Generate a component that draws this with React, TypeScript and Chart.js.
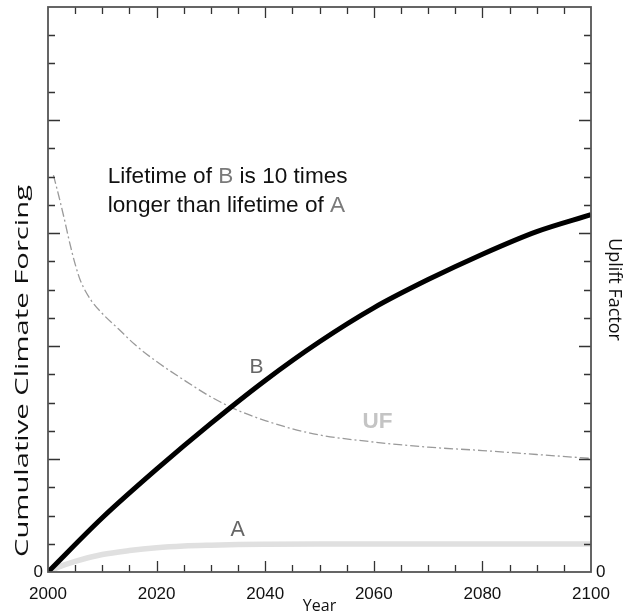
import React, { useEffect, useRef } from 'react';
import { Chart, registerables } from 'chart.js';

Chart.register(...registerables);

// Years sampled for curve B
const yearsB = [2000, 2010, 2020, 2030, 2040, 2050, 2060, 2070, 2080, 2090, 2100];
// Cumulative climate forcing of B (long lifetime)
const seriesB = [0, 1.92, 3.64, 5.26, 6.78, 8.15, 9.35, 10.35, 11.25, 12.05, 12.65];
// Cumulative climate forcing of A (short lifetime)
const yearsA = [2000, 2002, 2005, 2010, 2015, 2020, 2025, 2030, 2035, 2040, 2050, 2060, 2070, 2080, 2090, 2100];
const seriesA = [0, 0.18, 0.38, 0.62, 0.76, 0.86, 0.92, 0.95, 0.97, 0.98, 0.99, 0.99, 0.99, 0.99, 0.99, 0.99];
// Uplift factor
const ufYears = [2001, 2002, 2003, 2004, 2005, 2006, 2008, 2010, 2013, 2016, 2020, 2025, 2030, 2035, 2040, 2045, 2050, 2060, 2070, 2080, 2090, 2100];
const ufValues = [14.05, 13.3, 12.5, 11.65, 10.9, 10.3, 9.6, 9.15, 8.6, 8.05, 7.45, 6.8, 6.2, 5.72, 5.36, 5.07, 4.85, 4.6, 4.42, 4.3, 4.16, 4.02];

const xTickLabels = ['2000', '2020', '2040', '2060', '2080', '2100'];
const yTickLabels = ['0'];

const FONT = '"Liberation Sans", Arial, sans-serif';
const TITLE_FONT = '"Open Sans", sans-serif';

const framePlugin = {
  id: 'frameTicks',
  afterDraw(chart: any) {
    const { ctx, chartArea } = chart;
    const { left, right, top, bottom } = chartArea;
    const xs = chart.scales.x;
    const ys = chart.scales.y;
    ctx.save();
    ctx.strokeStyle = '#333';
    ctx.lineWidth = 1.3;
    xs.ticks.forEach((t: any) => {
      const v = t.value;
      if (v <= 2000 || v >= 2100) return;
      const px = Math.round(xs.getPixelForValue(v)) + 0.5;
      const major = v % 20 === 0;
      const len = major ? 11 : 7;
      ctx.beginPath();
      ctx.moveTo(px, bottom);
      ctx.lineTo(px, bottom - len);
      ctx.moveTo(px, top);
      ctx.lineTo(px, top + len);
      ctx.stroke();
    });
    ys.ticks.forEach((t: any) => {
      const v = t.value;
      if (v <= 0 || v >= 20) return;
      const py = Math.round(ys.getPixelForValue(v)) + 0.5;
      const major = v % 4 === 0;
      const len = major ? 12 : 7;
      ctx.beginPath();
      ctx.moveTo(left, py);
      ctx.lineTo(left + len, py);
      ctx.moveTo(right, py);
      ctx.lineTo(right - len, py);
      ctx.stroke();
    });
    ctx.strokeStyle = '#555';
    ctx.lineWidth = 1.8;
    ctx.strokeRect(left, top, right - left, bottom - top);

    // left axis title (stretched lettering as in the reference)
    ctx.save();
    ctx.font = '19px ' + TITLE_FONT;
    ctx.fillStyle = '#111';
    ctx.textAlign = 'center';
    ctx.textBaseline = 'alphabetic';
    const title = 'Cumulative Climate Forcing';
    const w = ctx.measureText(title).width;
    const target = 372;
    ctx.translate(28, 371);
    ctx.rotate(-Math.PI / 2);
    ctx.scale(target / w, 1);
    ctx.fillText(title, 0, 0);
    ctx.restore();

    const drawRuns = (runs: [string, string][], xv: number, yv: number, font: string) => {
      ctx.font = font;
      ctx.textBaseline = 'alphabetic';
      ctx.textAlign = 'left';
      let x = xs.getPixelForValue(xv);
      const y = ys.getPixelForValue(yv);
      runs.forEach(([txt, col]) => {
        ctx.fillStyle = col;
        ctx.fillText(txt, x, y);
        x += ctx.measureText(txt).width;
      });
    };
    const f22 = '22.6px ' + FONT;
    drawRuns([['Lifetime of ', '#111'], ['B', '#7a7a7a'], [' is 10 times', '#111']], 2011, 13.77, f22);
    drawRuns([['longer than lifetime of ', '#111'], ['A', '#7a7a7a']], 2011, 12.76, f22);
    drawRuns([['B', '#666']], 2037.1, 7.05, '21px ' + FONT);
    drawRuns([['UF', '#c4c4c4']], 2057.9, 5.08, 'bold 22.5px ' + FONT);
    drawRuns([['A', '#666']], 2033.6, 1.26, '21.5px ' + FONT);
    ctx.restore();
  },
};

const fixVertical = (width: number) => (s: any) => {
  s.width = width;
  s.paddingTop = 0;
  s.paddingBottom = 0;
};

export default function App() {
  const ref = useRef<HTMLCanvasElement | null>(null);
  useEffect(() => {
    document.body.style.margin = '0';
    const canvas = ref.current;
    if (!canvas) return;
    const chart = new Chart(canvas, {
      type: 'line',
      data: {
        datasets: [
          {
            label: 'A',
            data: yearsA.map((x, i) => ({ x, y: seriesA[i] })),
            borderColor: '#e0e0e0',
            borderWidth: 5.5,
            pointRadius: 0,
            cubicInterpolationMode: 'monotone',
            yAxisID: 'y',
            order: 3,
          },
          {
            label: 'UF',
            data: ufYears.map((x, i) => ({ x, y: ufValues[i] })),
            borderColor: '#9a9a9a',
            borderWidth: 1.3,
            borderDash: [9, 3, 2, 3],
            pointRadius: 0,
            cubicInterpolationMode: 'monotone',
            yAxisID: 'y2',
            order: 2,
          },
          {
            label: 'B',
            data: yearsB.map((x, i) => ({ x, y: seriesB[i] })),
            borderColor: '#000',
            borderWidth: 5,
            pointRadius: 0,
            cubicInterpolationMode: 'monotone',
            yAxisID: 'y',
            order: 1,
          },
        ],
      },
      options: {
        responsive: false,
        animation: false,
        layout: { padding: { top: 7, left: 0, right: 0, bottom: 0 } },
        plugins: { legend: { display: false }, tooltip: { enabled: false } },
        scales: {
          x: {
            type: 'linear',
            min: 2000,
            max: 2100,
            grid: { display: false, drawTicks: false },
            border: { display: false },
            ticks: {
              stepSize: 5,
              autoSkip: false,
              maxRotation: 0,
              padding: 12,
              color: '#111',
              font: { family: FONT, size: 17 },
              callback: (v: any) => (xTickLabels.includes(String(v)) ? String(v) : ''),
            },
            title: {
              display: true,
              text: 'Year',
              color: '#111',
              font: { family: TITLE_FONT, size: 16 },
              padding: { top: 0, bottom: 0 },
            },
            afterFit: (s: any) => { s.height = 44; s.paddingLeft = 0; s.paddingRight = 0; },
          },
          y: {
            type: 'linear',
            position: 'left',
            min: 0,
            max: 20,
            grid: { display: false, drawTicks: false },
            border: { display: false },
            ticks: {
              stepSize: 1,
              autoSkip: false,
              padding: 5,
              color: '#111',
              font: { family: FONT, size: 17 },
              callback: (v: any) => (yTickLabels.includes(String(v)) ? String(v) : ''),
            },
            title: { display: false, text: 'Cumulative Climate Forcing' },
            afterFit: fixVertical(48),
          },
          y2: {
            type: 'linear',
            position: 'right',
            min: 0,
            max: 20,
            grid: { display: false, drawTicks: false },
            border: { display: false },
            ticks: {
              stepSize: 1,
              autoSkip: false,
              padding: 5,
              color: '#111',
              font: { family: FONT, size: 17 },
              callback: (v: any) => (yTickLabels.includes(String(v)) ? String(v) : ''),
            },
            title: {
              display: true,
              text: 'Uplift Factor',
              color: '#111',
              font: { family: TITLE_FONT, size: 18 },
              padding: { top: 3, bottom: 0 },
            },
            afterFit: fixVertical(37),
          },
        },
      },
      plugins: [framePlugin],
    } as any);
    return () => chart.destroy();
  }, []);
  return (
    <div style={{ width: 628, height: 616 }}>
      <canvas ref={ref} width={628} height={616} style={{ display: 'block' }} />
    </div>
  );
}
